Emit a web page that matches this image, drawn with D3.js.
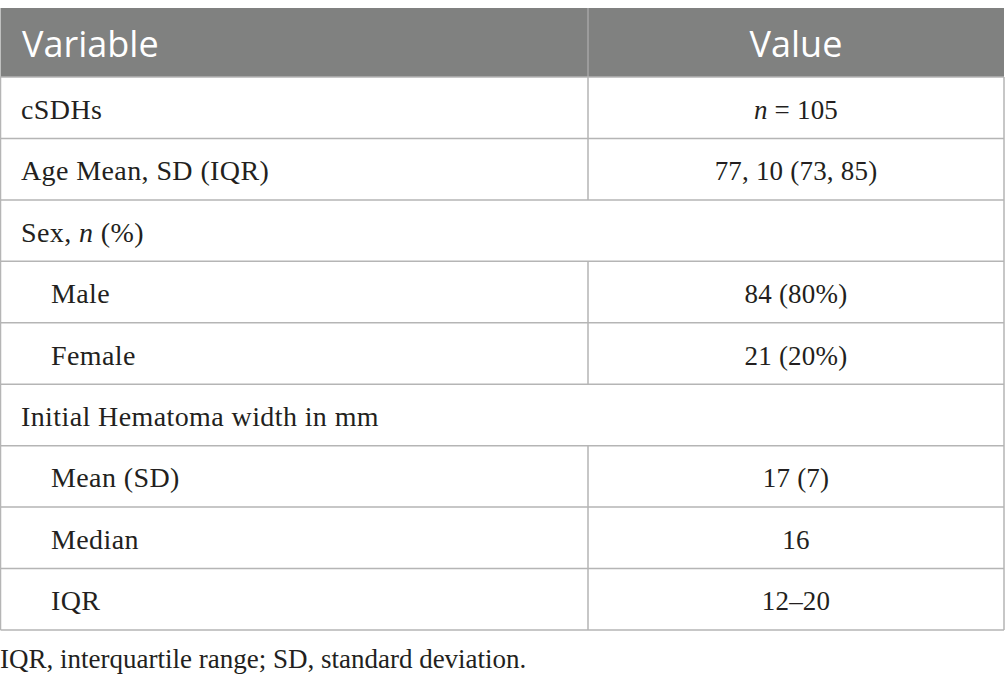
<!DOCTYPE html>
<html>
<head>
<meta charset="utf-8">
<script src="https://cdn.jsdelivr.net/npm/d3@7"></script>
<style>
  body { margin: 0; background: #fff; }
  svg { display: block; }
</style>
</head>
<body>
<svg id="table" width="1005" height="686"></svg>
<script>
// table content
const headers = ["Variable", "Value"]
const labels = ["cSDHs", "Age Mean, SD (IQR)", "Sex, |n| (%)", "Male", "Female",
                "Initial Hematoma width in mm", "Mean (SD)", "Median", "IQR"]
const values = ["|n| = 105", "77, 10 (73, 85)", null, "84 (80%)", "21 (20%)",
                null, "17 (7)", "16", "12\u201320"]
const indent = [0, 0, 0, 1, 1, 0, 1, 1, 1]
const footnote = "IQR, interquartile range; SD, standard deviation."

const svg = d3.select("svg#table")
const left = 0.5, right = 1004, divX = 588
const headTop = 8, headBottom = 77, tableBottom = 630
const lineColor = "#b5b5b5"
const textColor = "#231f20"
const serif = "'Liberation Serif', 'DejaVu Serif', serif"

const rows = d3.range(labels.length)
const y = d3.scaleBand().domain(rows).range([headBottom, tableBottom])

// header
svg.append("rect")
    .attr("x", left).attr("y", headTop)
    .attr("width", right - left).attr("height", headBottom - headTop)
    .attr("fill", "#808180")

svg.append("line")
    .attr("x1", divX).attr("x2", divX)
    .attr("y1", headTop).attr("y2", headBottom)
    .attr("stroke", "#a6a6a6").attr("stroke-width", 1.5)

svg.selectAll("text.head")
    .data(headers)
    .join("text")
    .attr("class", "head")
    .attr("x", (d, i) => i == 0 ? 22 : (divX + right) / 2)
    .attr("y", (headTop + headBottom) / 2 + 14)
    .attr("text-anchor", (d, i) => i == 0 ? "start" : "middle")
    .attr("font-family", "'Open Sans', 'Noto Sans', sans-serif")
    .attr("font-size", 36)
    .attr("fill", "#fff")
    .text(d => d)

// horizontal row lines
svg.selectAll("line.row")
    .data(rows)
    .join("line")
    .attr("class", "row")
    .attr("x1", left).attr("x2", right)
    .attr("y1", d => y(d) + y.bandwidth())
    .attr("y2", d => y(d) + y.bandwidth())
    .attr("stroke", lineColor).attr("stroke-width", 1.5)

svg.append("line")
    .attr("x1", left).attr("x2", right)
    .attr("y1", headBottom).attr("y2", headBottom)
    .attr("stroke", lineColor).attr("stroke-width", 1.5)

// outer verticals
svg.selectAll("line.side")
    .data([left, right])
    .join("line")
    .attr("class", "side")
    .attr("x1", d => d).attr("x2", d => d)
    .attr("y1", headBottom).attr("y2", tableBottom)
    .attr("stroke", lineColor).attr("stroke-width", 1.5)

// column divider, only where a value exists
svg.selectAll("line.div")
    .data(rows.filter(i => values[i] !== null))
    .join("line")
    .attr("class", "div")
    .attr("x1", divX).attr("x2", divX)
    .attr("y1", d => y(d)).attr("y2", d => y(d) + y.bandwidth())
    .attr("stroke", lineColor).attr("stroke-width", 1.5)

// text with |x| marking italic pieces
function richText(sel, str) {
    str.split("|").forEach((part, k) => {
        if (part === "") return
        sel.append("tspan")
            .attr("font-style", k % 2 ? "italic" : "normal")
            .text(part)
    })
}

svg.selectAll("text.label")
    .data(rows)
    .join("text")
    .attr("class", "label")
    .attr("x", d => indent[d] ? 51 : 21)
    .attr("y", d => y(d) + y.bandwidth() / 2 + 11)
    .attr("font-family", serif)
    .attr("font-size", 28)
    .attr("letter-spacing", 0.4)
    .attr("fill", textColor)
    .each(function(d) { richText(d3.select(this), labels[d]) })

svg.selectAll("text.value")
    .data(rows.filter(i => values[i] !== null))
    .join("text")
    .attr("class", "value")
    .attr("x", (divX + right) / 2)
    .attr("y", d => y(d) + y.bandwidth() / 2 + 11)
    .attr("text-anchor", "middle")
    .attr("font-family", serif)
    .attr("font-size", 27)
    .attr("letter-spacing", 0.2)
    .attr("fill", textColor)
    .each(function(d) { richText(d3.select(this), values[d]) })

svg.append("text")
    .attr("x", 0)
    .attr("y", 668)
    .attr("font-family", serif)
    .attr("font-size", 27)
    .attr("fill", textColor)
    .text(footnote)
</script>
</body>
</html>
